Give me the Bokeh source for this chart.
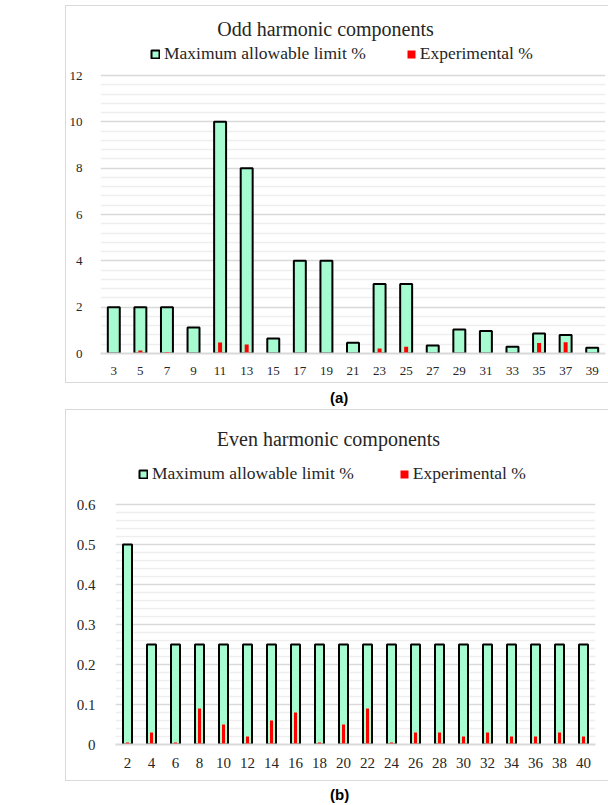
from bokeh.plotting import figure
from bokeh.models import (FactorRange, Range1d, FixedTicker, NumeralTickFormatter,
                          Legend, LegendItem, Label, Div, Spacer)
from bokeh.layouts import column, row
from bokeh.embed import file_html
from bokeh.resources import INLINE

# ---- data ----
odd_orders = ["3", "5", "7", "9", "11", "13", "15", "17", "19", "21",
              "23", "25", "27", "29", "31", "33", "35", "37", "39"]
odd_limit = [2, 2, 2, 1.12, 10, 8, 0.65, 4, 4, 0.46,
             3, 3, 0.35, 1.04, 0.97, 0.29, 0.86, 0.8, 0.25]
odd_exp = [0, 0.13, 0.06, 0, 0.47, 0.39, 0, 0, 0, 0,
           0.22, 0.29, 0, 0, 0, 0, 0.45, 0.49, 0]

even_orders = ["2", "4", "6", "8", "10", "12", "14", "16", "18", "20",
               "22", "24", "26", "28", "30", "32", "34", "36", "38", "40"]
even_limit = [0.5, 0.25, 0.25, 0.25, 0.25, 0.25, 0.25, 0.25, 0.25, 0.25,
              0.25, 0.25, 0.25, 0.25, 0.25, 0.25, 0.25, 0.25, 0.25, 0.25]
even_exp = [0.005, 0.03, 0.005, 0.09, 0.05, 0.02, 0.06, 0.08, 0.005, 0.05,
            0.09, 0.005, 0.03, 0.03, 0.02, 0.03, 0.02, 0.02, 0.03, 0.02]

odd_major_ticks = [0, 2, 4, 6, 8, 10, 12]
even_major_ticks = [0, 0.1, 0.2, 0.3, 0.4, 0.5, 0.6]

titles = ["Odd harmonic components", "Even harmonic components"]
series_names = ["Maximum allowable limit %", "Experimental %"]

MINT = "#a6fbd0"
RED = "#ff0000"
SERIF = "Liberation Serif"
TXT = "#262626"
BOX = {"border-left": "1px solid #d9d9d9", "border-top": "1px solid #d9d9d9",
       "border-bottom": "1px solid #d9d9d9"}


def make_chart(cats, lim, exp, title, majors, n_minor, fmt, w, h, mbl, mbr, mbb,
               axis_px, bw, rw, tick_fs, ystand, xstand, title_xy, leg_xy, leg_spacing):
    top_val = majors[-1]
    frame_h = h - mbb
    ymax = top_val * frame_h / axis_px          # frame extends above the last gridline
    step = (majors[1] - majors[0]) / n_minor
    minors = [round(i * step, 4) for i in range(int(round(top_val / step)) + 1) if i % n_minor]

    p = figure(x_range=FactorRange(factors=cats, range_padding=0),
               y_range=Range1d(0, ymax), width=w, height=h,
               output_backend="svg", toolbar_location=None, title_location=None,
               min_border_left=mbl, min_border_right=mbr,
               min_border_top=0, min_border_bottom=mbb)
    p.styles = BOX
    p.outline_line_color = None
    p.background_fill_color = "white"
    p.border_fill_color = "white"

    r1 = p.vbar(x=cats, top=lim, width=bw, fill_color=MINT, line_color="black", line_width=2)
    r2 = p.vbar(x=cats, top=exp, width=rw, fill_color=RED, line_color=None)

    p.xgrid.grid_line_color = None
    p.yaxis.ticker = FixedTicker(ticks=majors, minor_ticks=minors)
    p.yaxis.formatter = NumeralTickFormatter(format=fmt)
    p.ygrid.grid_line_color = "#d9d9d9"
    p.ygrid.grid_line_width = 1.5
    p.ygrid.minor_grid_line_color = "#eeeeee"
    p.ygrid.minor_grid_line_width = 1.5

    for ax in (p.xaxis, p.yaxis):
        ax.major_tick_line_color = None
        ax.minor_tick_line_color = None
        ax.major_label_text_font = SERIF
        ax.major_label_text_font_size = tick_fs
        ax.major_label_text_color = TXT
    p.yaxis.axis_line_color = None
    p.yaxis.major_label_standoff = ystand
    p.xaxis.axis_line_color = "#d9d9d9"
    p.xaxis.axis_line_width = 2
    p.xaxis.major_label_standoff = xstand

    p.add_layout(Label(x=title_xy[0], y=title_xy[1], x_units="screen", y_units="screen",
                       text=title, text_align="center", text_baseline="middle",
                       text_font=SERIF, text_font_size="20px", text_color=TXT))

    leg = Legend(items=[LegendItem(label=series_names[0], renderers=[r1]),
                        LegendItem(label=series_names[1], renderers=[r2])],
                 location=leg_xy, orientation="horizontal",
                 glyph_width=10, glyph_height=10, label_standoff=4,
                 spacing=leg_spacing, padding=0, margin=0, label_height=20,
                 border_line_color=None, background_fill_alpha=0,
                 label_text_font=SERIF, label_text_font_size="17.5px",
                 label_text_color=TXT)
    p.add_layout(leg)
    return p


# top chart: canvas y 5..383, axis at y=352, 12-line at y=74; frame x 96..604
pa = make_chart(odd_orders, odd_limit, odd_exp, titles[0], odd_major_ticks, 5, "0",
                543, 378, 31, 4, 31, 278, 0.45, 0.15, "13px", 12, 7,
                (225, 325), (50, 289), 40)
# bottom chart: canvas y 409..781, axis at y=743, 0.6-line at y=503; frame x 114..594
pb = make_chart(even_orders, even_limit, even_exp, titles[1], even_major_ticks, 5, "0.[0]",
                543, 372, 49, 14, 38, 240, 0.375, 0.125, "15px", 14, 7,
                (213, 306), (23, 260), 45)


def caption(t, h, mt):
    return Div(width=40, height=h, margin=0,
               text=('<div style="font:bold 15px \'Liberation Sans\',Arial,sans-serif;'
                     'color:#000;line-height:14px;margin-top:%dpx">%s</div>' % (mt, t)))


layout = column(
    Spacer(width=10, height=5),
    row(Spacer(width=65, height=378), pa),
    row(Spacer(width=330, height=26), caption("(a)", 26, 8)),
    row(Spacer(width=65, height=372), pb),
    row(Spacer(width=330, height=22), caption("(b)", 22, 7)),
    spacing=0)

open("out.html", "w").write(file_html(layout, INLINE))
